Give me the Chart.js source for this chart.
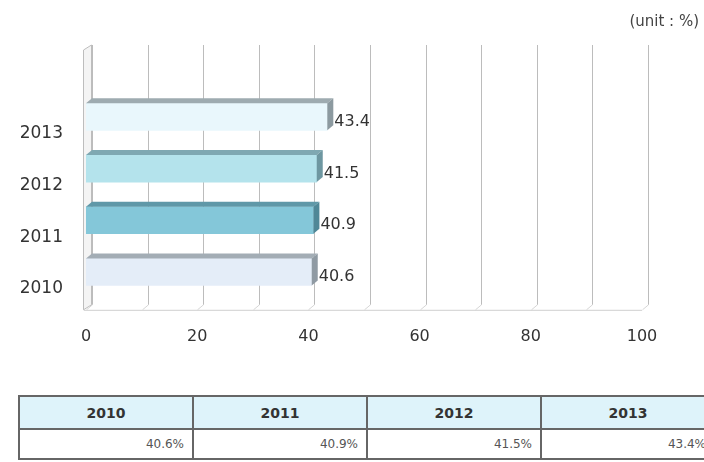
<!DOCTYPE html>
<html>
<head>
<meta charset="utf-8">
<script src="https://cdn.jsdelivr.net/npm/chart.js@4/dist/chart.umd.min.js"></script>
<style>
	html, body { margin: 0; padding: 0; background: #fff; width: 704px; height: 462px; overflow: hidden; }
	#wrap { position: absolute; left: 0; top: 0; width: 704px; height: 400px; }
	#rateChart { display: block; }
	#unit { position: absolute; right: 5px; top: 12px; font: 15px "DejaVu Sans", sans-serif; color: #444; }
	#dataTable { position: absolute; left: 18px; top: 395px; border-collapse: collapse; table-layout: fixed; width: 698px; background: #fff; }
	#dataTable td { border: 2px solid #666; font-family: "DejaVu Sans", sans-serif; }
	#dataTable .head td { background: #def3fa; height: 29px; text-align: center; font-weight: bold; font-size: 14px; color: #333; }
	#dataTable .vals td { height: 26px; text-align: right; font-size: 12px; color: #555; padding-right: 8px; }
</style>
</head>
<body>
<div id="wrap">
	<canvas id="rateChart" width="704" height="400"></canvas>
	<div id="unit">(unit : %)</div>
</div>
<table id="dataTable">
	<tr class="head" id="headRow"></tr>
	<tr class="vals" id="valRow"></tr>
</table>

<script>
var years = ['2010', '2011', '2012', '2013'];
var rates = [40.6, 40.9, 41.5, 43.4];
var xTicks = [0, 20, 40, 60, 80, 100];

// face / top / side colours per bar
var faceColors = ['#e4edf8', '#84c7d9', '#b4e3ec', '#e9f7fc'];
var topColors = ['#a3adb5', '#5f98a8', '#7fa8b2', '#9eabb0'];
var sideColors = ['#8f9aa3', '#4f8797', '#6e97a1', '#8c9aa0'];

var DX = 6, DY = 5;

// build table from the same arrays
var headRow = document.getElementById('headRow');
var valRow = document.getElementById('valRow');
for (var i = 0; i < years.length; i++) {
	var th = document.createElement('td');
	th.textContent = years[i];
	headRow.appendChild(th);
	var td = document.createElement('td');
	td.textContent = rates[i].toFixed(1) + '%';
	valRow.appendChild(td);
}

var wallPlugin = {
	id: 'wall3d',
	beforeDatasetsDraw: function (chart) {
		var ctx = chart.ctx;
		var area = chart.chartArea;
		var xs = chart.scales.x;
		var top = area.top - 46;
		var floor = area.bottom + 12;
		ctx.save();
		ctx.lineWidth = 1;
		// back wall gridlines
		for (var v = 0; v <= 100; v += 10) {
			var px = Math.round(xs.getPixelForValue(v)) + DX + 0.5;
			ctx.strokeStyle = '#bcbcbc';
			ctx.beginPath();
			ctx.moveTo(px, top);
			ctx.lineTo(px, floor - DY);
			ctx.stroke();
			ctx.strokeStyle = '#d6d6d6';
			ctx.beginPath();
			ctx.moveTo(px, floor - DY);
			ctx.lineTo(px - DX, floor);
			ctx.stroke();
		}
		// floor
		var x0 = xs.getPixelForValue(0);
		var x1 = xs.getPixelForValue(100);
		ctx.strokeStyle = '#cfcfcf';
		ctx.beginPath();
		ctx.moveTo(x0 - 2, floor + 0.5);
		ctx.lineTo(x1, floor + 0.5);
		ctx.stroke();
		// left wall
		ctx.fillStyle = '#f4f4f4';
		ctx.strokeStyle = '#bdbdbd';
		ctx.beginPath();
		ctx.moveTo(x0 - 2.5, top + DY);
		ctx.lineTo(x0 + DX - 0.5, top);
		ctx.lineTo(x0 + DX - 0.5, floor - DY);
		ctx.lineTo(x0 - 2.5, floor);
		ctx.closePath();
		ctx.fill();
		ctx.stroke();
		ctx.restore();
	},
	afterDatasetsDraw: function (chart) {
		var ctx = chart.ctx;
		var meta = chart.getDatasetMeta(0);
		ctx.save();
		meta.data.forEach(function (bar, idx) {
			var p = bar.getProps(['x', 'y', 'base', 'height'], true);
			var t = p.y - p.height / 2;
			var b = p.y + p.height / 2;
			// top face
			ctx.fillStyle = topColors[idx];
			ctx.beginPath();
			ctx.moveTo(p.base, t);
			ctx.lineTo(p.base + DX, t - DY);
			ctx.lineTo(p.x + DX, t - DY);
			ctx.lineTo(p.x, t);
			ctx.closePath();
			ctx.fill();
			// end face
			ctx.fillStyle = sideColors[idx];
			ctx.beginPath();
			ctx.moveTo(p.x, t);
			ctx.lineTo(p.x + DX, t - DY);
			ctx.lineTo(p.x + DX, b - DY);
			ctx.lineTo(p.x, b);
			ctx.closePath();
			ctx.fill();
			// value label
			ctx.fillStyle = '#333';
			ctx.font = '16px "DejaVu Sans", sans-serif';
			ctx.textAlign = 'left';
			ctx.textBaseline = 'middle';
			ctx.fillText(rates[idx].toFixed(1), p.x + DX + 1, p.y + 5);
		});
		ctx.restore();
	}
};

var ctx = document.getElementById('rateChart');
var rateChart = new Chart(ctx, {
	type: 'bar',
	data: {
		labels: years,
		datasets: [{
			data: rates,
			backgroundColor: faceColors,
			borderWidth: 0,
			barThickness: 27
		}]
	},
	options: {
		indexAxis: 'y',
		responsive: false,
		animation: false,
		layout: {
			padding: { top: 91, right: 62, bottom: 25, left: 0 }
		},
		plugins: {
			legend: { display: false },
			tooltip: { enabled: false }
		},
		scales: {
			x: {
				min: 0,
				max: 100,
				afterBuildTicks: function (scale) {
					scale.ticks = xTicks.map(function (v) { return { value: v }; });
				},
				grid: { display: false, drawTicks: false },
				border: { display: false },
				ticks: {
					padding: 29,
					color: '#333',
					font: { family: 'DejaVu Sans', size: 16 }
				}
			},
			y: {
				reverse: true,
				afterFit: function (scale) { scale.width = 86; },
				grid: { display: false, drawTicks: false },
				border: { display: false },
				ticks: {
					padding: 23,
					labelOffset: 17,
					color: '#333',
					font: { family: 'DejaVu Sans', size: 17 }
				}
			}
		}
	},
	plugins: [wallPlugin]
});
</script>
</body>
</html>
